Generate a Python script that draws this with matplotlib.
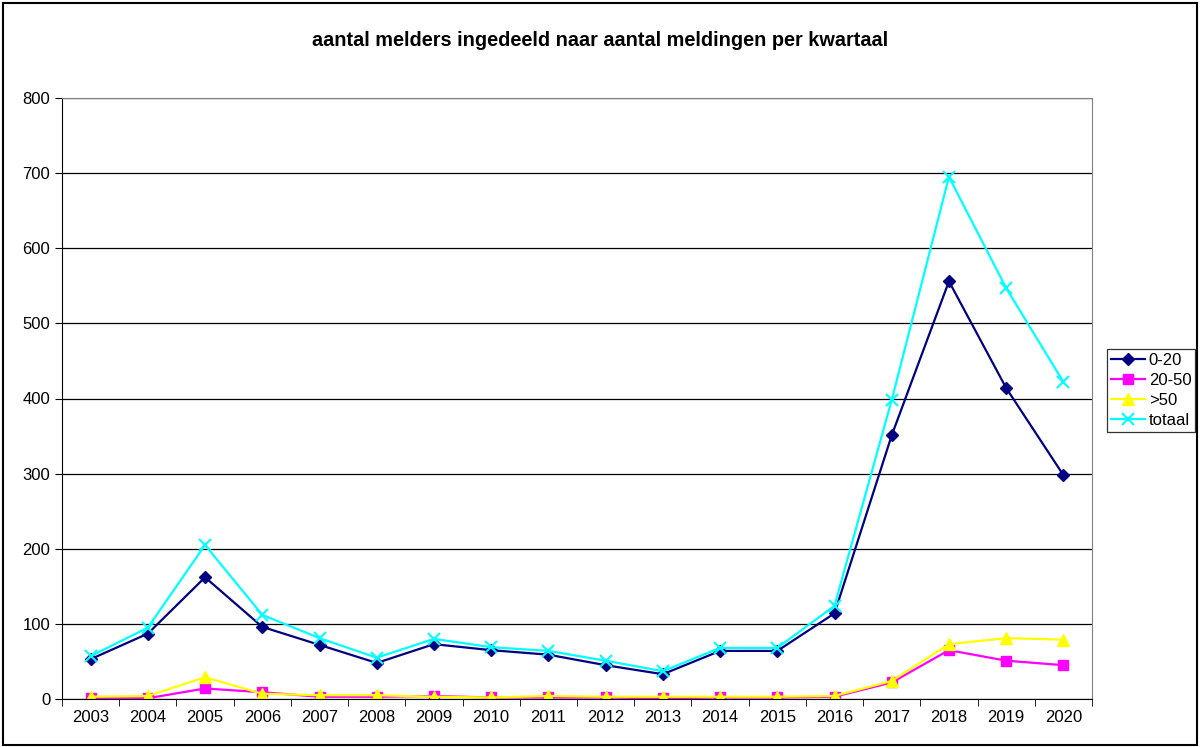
from matplotlib import pyplot as plt
from matplotlib.patches import Rectangle
import numpy as np

years = [str(y) for y in range(2003, 2021)]
s_0_20 = [53, 87, 162, 96, 72, 48, 73, 65, 59, 45, 33, 64, 64, 114, 351, 556, 414, 298]
s_20_50 = [1, 1, 14, 9, 3, 3, 4, 2, 2, 2, 1, 2, 2, 3, 22, 65, 51, 45]
s_gt_50 = [3, 4, 29, 7, 5, 5, 3, 2, 4, 3, 3, 3, 3, 4, 24, 73, 81, 79]
s_totaal = [57, 95, 205, 112, 81, 55, 80, 69, 64, 51, 37, 68, 68, 124, 398, 695, 547, 422]

plt.rcParams['font.family'] = ['Liberation Sans', 'DejaVu Sans']

fig = plt.figure(figsize=(12, 7.47), dpi=100)
ax = fig.add_axes([62/1200, 1-699/747, (1092-62)/1200, (699-98)/747])

x = np.arange(len(years))
ax.plot(x, s_0_20, color='#000080', marker='D', markersize=6, lw=1.6, label='0-20')
ax.plot(x, s_20_50, color='#FF00FF', marker='s', markersize=7, lw=1.6, label='20-50')
ax.plot(x, s_gt_50, color='#FFFF00', marker='^', markersize=8, lw=1.6, label='>50')
ax.plot(x, s_totaal, color='#00FFFF', marker='x', markersize=8, mew=1.5, lw=1.6, label='totaal')

ax.set_xlim(-0.5, len(years) - 0.5)
ax.set_ylim(0, 800)
ax.set_yticks(range(0, 801, 100))
ax.set_xticks(x)
ax.set_xticklabels(years, fontsize=12)
ax.set_xticks(np.arange(-0.5, len(years), 1), minor=True)
ax.tick_params(axis='x', which='major', length=0, pad=8)
ax.tick_params(axis='x', which='minor', length=5, color='black')
ax.tick_params(axis='y', labelsize=12, length=5)
ax.yaxis.grid(True, color='black', lw=0.9)
ax.set_axisbelow(True)
for side in ['top', 'right']:
    ax.spines[side].set_color('#808080')
for side in ['left', 'bottom']:
    ax.spines[side].set_color('black')

fig.text(0.5, 1-41/747, 'aantal melders ingedeeld naar aantal meldingen per kwartaal',
         ha='center', va='center', fontsize=14.3, fontweight='bold')

leg = fig.legend(loc='upper left', bbox_to_anchor=(1107/1200, 1-349/747), fontsize=12,
                 frameon=True, fancybox=False, edgecolor='black', borderpad=0.25,
                 labelspacing=0.3, handlelength=2.0, handletextpad=0.25, borderaxespad=0)
leg.get_frame().set_linewidth(0.9)

fig.patches.append(Rectangle((3/1200, 2/747), 1194/1200, 742/747, transform=fig.transFigure,
                             fill=False, edgecolor='black', lw=1.5))

fig.savefig('out.png', dpi=100)
